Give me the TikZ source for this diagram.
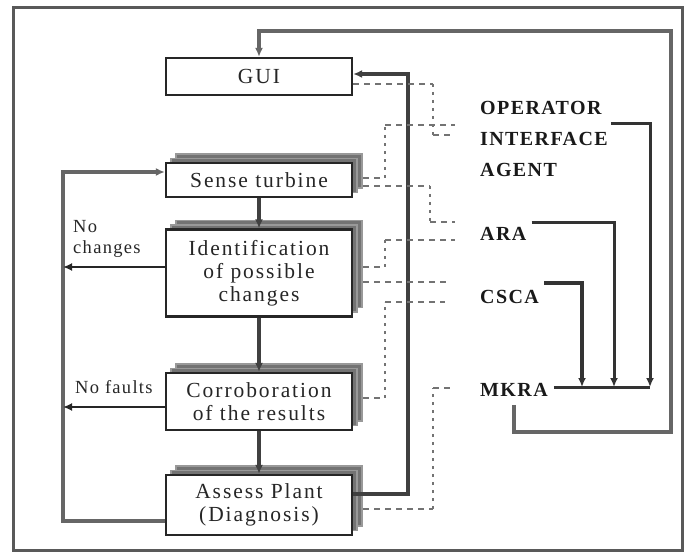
\documentclass[tikz,border=0pt]{standalone}
\usepackage{fontspec}
\setmainfont{Liberation Serif}
\newfontfamily\bxfont[LetterSpace=9]{Liberation Serif}
\newfontfamily\sdfont[LetterSpace=7]{Liberation Serif}
\newfontfamily\agfont[LetterSpace=7]{Liberation Serif}
\usetikzlibrary{arrows.meta,shadows,calc}
\begin{document}
\begin{tikzpicture}[x=1pt,y=-1pt,
  box/.style={draw=black!85, line width=2.3pt, fill=white, minimum width=186pt,
    align=center, inner sep=0pt, text=black!85,
    font=\bxfont\fontsize{21.5pt}{23pt}\selectfont},
  shbox/.style={box, double copy shadow={shadow xshift=5pt, shadow yshift=4.5pt,
    fill=black!55, draw=black!40, line width=1.2pt}},
  ag/.style={anchor=west, inner sep=0pt, text=black!90, align=left,
    font=\agfont\bfseries\fontsize{20pt}{31pt}\selectfont},
  sd/.style={anchor=west, inner sep=0pt, text=black!85, align=left,
    font=\sdfont\fontsize{18.5pt}{21pt}\selectfont},
  arr/.style={-{Latex[length=9pt,width=8pt]}},
  flow/.style={line width=4pt, draw=black!75},
  thin/.style={line width=2.8pt, draw=black!85},
  loop/.style={line width=3.4pt, draw=black!60},
  agl/.style={line width=3pt, draw=black!80},
  hd/.style={line width=2.2pt, draw=black!55, dash pattern=on 6pt off 5pt},
  vd/.style={line width=2.2pt, draw=black!55, dash pattern=on 3pt off 5pt}
]
\useasboundingbox (0,0) rectangle (685,553);
\draw[line width=3pt, draw=black!65] (13,8) rectangle (682,550);

% boxes
\node[box, minimum height=37pt] (gui) at (259,76.5) {GUI};
\node[shbox, minimum height=34pt] (sense) at (259,180) {Sense turbine};
\node[shbox, minimum height=87pt] (ident) at (259,273) {Identification\\of possible\\changes};
\node[shbox, minimum height=57pt] (corr) at (259,401.5) {Corroboration\\of the results};
\node[shbox, minimum height=60pt] (assess) at (259,505) {Assess Plant\\(Diagnosis)};

% side labels
\node[sd] (noch) at (73,239) {No\\changes};
\node[sd] (nof) at (75,387) {No faults};

% agents
\node[ag] (oia) at (480,139) {OPERATOR\\INTERFACE\\AGENT};
\node[ag] (ara) at (480,234) {ARA};
\node[ag] (csca) at (480,297) {CSCA};
\node[ag] (mkra) at (480,390) {MKRA};

% coordinates
\coordinate (lb) at (63,521);
\coordinate (lt) at (63,172);
\coordinate (nc) at (63,267);
\coordinate (nf) at (63,407);
\coordinate (vb) at (408,494);
\coordinate (vt) at (408,74);
\coordinate (rb) at (671,432);
\coordinate (rt) at (671,31);
\coordinate (k1) at (650,124);
\coordinate (k2) at (614,223);
\coordinate (k3) at (582,283);
\coordinate (be) at (650,387);

% flow arrows
\draw[flow,arr] (sense) -- (ident);
\draw[flow,arr] (ident) -- (corr);
\draw[flow,arr] (corr) -- (assess);
\draw[loop,arr] (lb -| assess.west) -- (lb) -- (lt) -- (lt -| sense.west);
\draw[thin,arr] (nc -| ident.west) -- (nc);
\draw[thin,arr] (nf -| corr.west) -- (nf);
\draw[flow,arr] (vb -| assess.east) -- (vb) -- (vt) -- (vt -| gui.east);

% agents to MKRA
\draw[agl] ($(mkra.east |- be)+(6,0)$) -- (be);
\draw[agl,arr] ($(k1 -| oia.east)+(3,0)$) -- (k1) -- (k1 |- be);
\draw[agl,arr] ($(k2 -| ara.east)+(5,0)$) -- (k2) -- (k2 |- be);
\draw[agl,line width=3.8pt,arr] ($(k3 -| csca.east)+(5,0)$) -- (k3) -- (k3 |- be);
\draw[loop,arr] ($(mkra.south)+(0,8)$) |- (rb) -- (rt) -| (gui.north);

% dashed links
\coordinate (a1) at (433,84);  \coordinate (a2) at (433,135); \coordinate (a3) at (452,135);
\draw[hd] (gui.east |- a1) -- (a1) (a2) -- (a3);
\draw[vd] (a1) -- (a2);

\coordinate (b1) at (385,178); \coordinate (b2) at (385,125); \coordinate (b3) at (455,125);
\draw[hd] ($(sense.east |- b1)+(10,0)$) -- (b1) (b2) -- (b3);
\draw[vd] (b1) -- (b2);

\coordinate (c1) at (430,186); \coordinate (c2) at (430,222); \coordinate (c3) at (455,222);
\draw[hd] ($(sense.east |- c1)+(10,0)$) -- (c1) (c2) -- (c3);
\draw[vd] (c1) -- (c2);

\coordinate (d1) at (385,267); \coordinate (d2) at (385,240); \coordinate (d3) at (455,240);
\draw[hd] ($(ident.east |- d1)+(10,0)$) -- (d1) (d2) -- (d3);
\draw[vd] (d1) -- (d2);

\coordinate (e1) at (448,282);
\draw[hd] ($(ident.east |- e1)+(10,0)$) -- (e1);

\coordinate (f1) at (385,398); \coordinate (f2) at (385,302); \coordinate (f3) at (445,302);
\draw[hd] ($(corr.east |- f1)+(10,0)$) -- (f1) (f2) -- (f3);
\draw[vd] (f1) -- (f2);

\coordinate (g1) at (433,509); \coordinate (g2) at (433,388); \coordinate (g3) at (453,388);
\draw[hd] ($(assess.east |- g1)+(10,0)$) -- (g1) (g2) -- (g3);
\draw[vd] (g1) -- (g2);
\end{tikzpicture}
\end{document}
